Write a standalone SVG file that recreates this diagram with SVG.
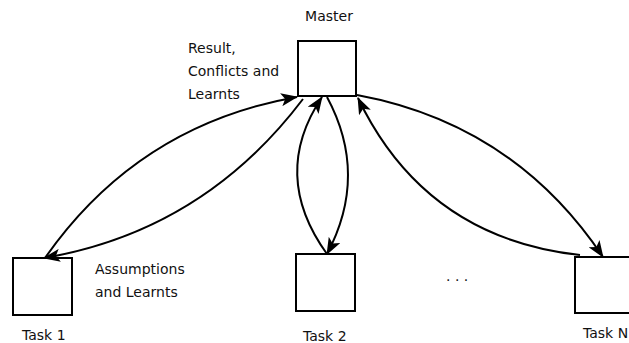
<svg xmlns="http://www.w3.org/2000/svg" width="629" height="343" viewBox="0 0 629 343">
<style>
.box{fill:#fff;stroke:#000;stroke-width:2}
.lbl{font-family:"DejaVu Sans",sans-serif;font-size:14px;fill:#111}
.arc{fill:none;stroke:#000;stroke-width:2}
</style>
<defs>
<marker id="ah" markerUnits="userSpaceOnUse" markerWidth="17" markerHeight="13" viewBox="0 0 17 13" refX="16" refY="6.5" orient="auto">
<path d="M0,0 L17,6.5 L0,13 L4,6.5 z" fill="#000"/>
</marker>
</defs>
<rect width="629" height="343" fill="#fff"/>
<g id="master">
<rect class="box" x="298" y="41" width="58" height="55"/>
<text class="lbl" x="329" y="21" text-anchor="middle">Master</text>
</g>
<g id="task1">
<rect class="box" x="13" y="258" width="59" height="57"/>
<text class="lbl" x="22" y="340">Task 1</text>
</g>
<g id="task2">
<rect class="box" x="296" y="254" width="59" height="57"/>
<text class="lbl" x="303" y="341">Task 2</text>
</g>
<g id="taskN">
<rect class="box" x="575" y="257" width="70" height="56"/>
<text class="lbl" x="583" y="338">Task N</text>
</g>
<g id="labels">
<text class="lbl" x="188" y="53">Result,</text>
<text class="lbl" x="188" y="76">Conflicts and</text>
<text class="lbl" x="188" y="99">Learnts</text>
<text class="lbl" x="95" y="274">Assumptions</text>
<text class="lbl" x="95" y="297">and Learnts</text>
<text class="lbl" x="446" y="281" fill="#555">. . .</text>
</g>
<g id="connectors">
<path class="arc" d="M45,258 Q138,125 297,97" marker-end="url(#ah)"/>
<path class="arc" d="M303,99 Q203,231 44,258" marker-end="url(#ah)"/>
<path class="arc" d="M327,254 Q270,175 322,97" marker-end="url(#ah)"/>
<path class="arc" d="M327,97 Q369,175 327,254" marker-end="url(#ah)"/>
<path class="arc" d="M357,95 Q514,124 603,257" marker-end="url(#ah)"/>
<path class="arc" d="M580,255 Q425,238 358,98" marker-end="url(#ah)"/>
</g>
</svg>
